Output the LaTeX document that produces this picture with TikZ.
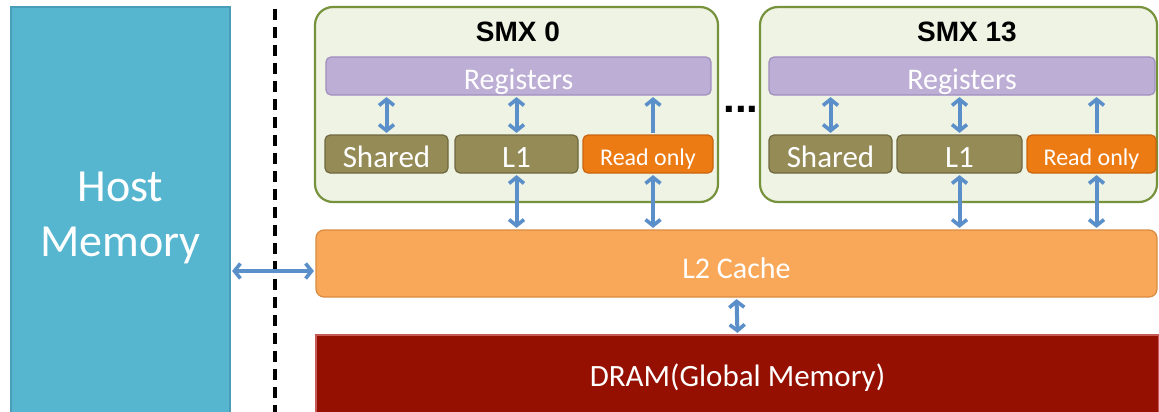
\documentclass[tikz,border=0pt]{standalone}
\usepackage{fontspec}
\setmainfont{Carlito}
\newfontfamily\headfont{Liberation Sans}
\usetikzlibrary{arrows.meta}

\definecolor{hostfill}{HTML}{56B6D0}
\definecolor{hostdraw}{HTML}{4A9DB6}
\definecolor{smxfill}{HTML}{EFF3E4}
\definecolor{smxdraw}{HTML}{76923C}
\definecolor{regfill}{HTML}{BDAED5}
\definecolor{regdraw}{HTML}{A08FC0}
\definecolor{olivefill}{HTML}{958B56}
\definecolor{olivedraw}{HTML}{6F6740}
\definecolor{rofill}{HTML}{EC7B14}
\definecolor{rodraw}{HTML}{C9650F}
\definecolor{ltwofill}{HTML}{F9A85A}
\definecolor{ltwodraw}{HTML}{D98B40}
\definecolor{dramfill}{HTML}{951000}
\definecolor{dramdraw}{HTML}{C65A55}
\definecolor{linkblue}{HTML}{5B8FC9}

\begin{document}
\begin{tikzpicture}[x=1pt,y=-1pt,
  >={Straight Barb[length=6pt,width=15pt,line width=3.6pt]},
  % baseline sits #1/2 below the node centre
  capline/.style={text height=#1, text depth=0pt},
  mem/.style={draw, line width=1.2pt, text=white, inner sep=0pt,
    font=\fontsize{30}{36}\selectfont},
  smx/.style={draw=smxdraw, fill=smxfill, line width=2.2pt,
    rounded corners=18pt, inner sep=0pt},
  regbox/.style={mem, fill=regfill, draw=regdraw, rounded corners=5pt,
    minimum height=38pt, capline=27pt},
  olivebox/.style={mem, fill=olivefill, draw=olivedraw, rounded corners=5pt,
    minimum height=38pt, minimum width=123pt, font=\fontsize{31}{36}\selectfont,
    capline=26pt},
  robox/.style={mem, fill=rofill, draw=rodraw, rounded corners=5pt,
    minimum height=38pt, font=\fontsize{24}{28}\selectfont, capline=22pt},
  title/.style={font=\headfont\bfseries\fontsize{28}{32}\selectfont, text=black},
  link/.style={draw=linkblue, line width=4pt,
    shorten >=1.5pt, shorten <=1.5pt},
  both/.style={link, <->},
  up/.style={link, ->}
]
\clip (0,0) rectangle (1159,412);
\fill[white] (0,0) rectangle (1159,412);

% host side
\node[mem, fill=hostfill, draw=hostdraw, minimum width=219pt, minimum height=421pt,
  align=center, font=\fontsize{46}{55}\selectfont] (host) at (120.5,217.5) {Host\\Memory};

% host / device boundary
\draw[black, line width=3.4pt, dash pattern=on 11pt off 7pt] (275,9) -- (275,412);

% device memory
\node[mem, fill=ltwofill, draw=ltwodraw, rounded corners=8pt, capline=29pt,
  minimum width=841pt, minimum height=67pt] (l2) at (736.5,263.5) {L2 Cache};
\node[mem, fill=dramfill, draw=dramdraw, minimum width=843pt, minimum height=85pt,
  font=\fontsize{31}{36}\selectfont, capline=18pt] (dram) at (737.5,377.5) {DRAM(Global Memory)};

% SMX 0
\node[smx, minimum width=403pt, minimum height=195pt] (smx0) at (516.5,104.5) {};
\node[title] (t0) at (518,32) {SMX 0};
\node[regbox, minimum width=385pt] (reg0) at (518.5,76) {Registers};
\node[olivebox] (sh0) at (386.5,154) {Shared};
\node[olivebox] (lone0) at (516.5,154) {L1};
\node[robox, minimum width=130pt] (ro0) at (648,154) {Read only};

% SMX 13
\node[smx, minimum width=397pt, minimum height=195pt] (smx13) at (958.5,104.5) {};
\node[title] (t13) at (967,32) {SMX 13};
\node[regbox, minimum width=386pt] (reg13) at (962,76) {Registers};
\node[olivebox] (sh13) at (830.5,154) {Shared};
\node[olivebox, minimum width=125pt] (lone13) at (959.5,154) {L1};
\node[robox, minimum width=129pt] (ro13) at (1091.5,154) {Read only};

% elided SMX units
\node[title, font=\headfont\bfseries\fontsize{42}{44}\selectfont, anchor=base]
  (dots) at (741,112) {...};

% links inside the SMX units
\foreach \s in {0,13}{
  \draw[both] (sh\s.north) -- (sh\s.north |- reg\s.south);
  \draw[both] (lone\s.north) -- (lone\s.north |- reg\s.south);
  \draw[up] ([xshift=5pt]ro\s.north) -- ([xshift=5pt]ro\s.north |- reg\s.south);
  \draw[both] (lone\s.south) -- (lone\s.south |- l2.north);
  \draw[both] ([xshift=5pt]ro\s.south) -- ([xshift=5pt]ro\s.south |- l2.north);
}

% links between memory levels
\coordinate (hl) at (0,271);
\draw[both] (host.east |- hl) -- (l2.west |- hl);
\draw[both] (l2.south) -- (dram.north);
\end{tikzpicture}
\end{document}
